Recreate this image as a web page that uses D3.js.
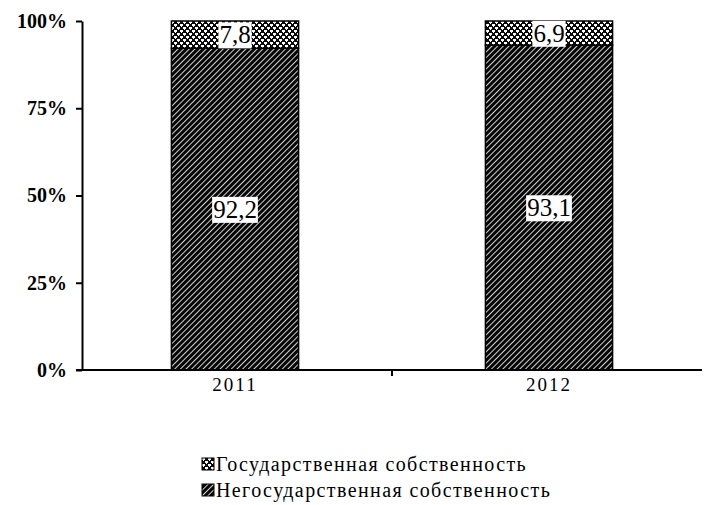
<!DOCTYPE html>
<html>
<head>
<meta charset="utf-8">
<script src="https://cdn.jsdelivr.net/npm/d3@7"></script>
<style>
	body { margin: 0; background: #fff; }
	svg text { font-family: "Liberation Serif", "DejaVu Serif", "Times New Roman", serif; fill: #000; }
</style>
</head>
<body>
<div class="chart"></div>
<script>
// data
const years = ['2011', '2012'];
const stateShare = [7.8, 6.9];
const privateShare = [92.2, 93.1];
const seriesNames = ['Государственная собственность', 'Негосударственная собственность'];
const yTicks = [0, 25, 50, 75, 100];

let width = 704,
	height = 505,
	serif = '"Liberation Serif", "DejaVu Serif", serif',
	xScale = d3.scaleBand().domain(years).range([78, 706]).paddingInner(0.595).paddingOuter(0.2975),
	yScale = d3.scaleLinear().domain([0, 100]).range([370, 21]),
	svg = null,
	defs = null;

svg = d3.select('.chart').append('svg')
	.attr('width', width)
	.attr('height', height);

defs = svg.append('defs');

// diagonal hatch (private)
let hatch = defs.append('pattern')
	.attr('id', 'hatch')
	.attr('patternUnits', 'userSpaceOnUse')
	.attr('width', 4)
	.attr('height', 4)
	.attr('patternTransform', 'rotate(45)');
hatch.append('rect').attr('width', 4).attr('height', 4).attr('fill', '#050505');
hatch.append('rect').attr('x', 0).attr('width', 1).attr('height', 4).attr('fill', '#d0d0d0');

// spotted pattern (state)
let spots = defs.append('pattern')
	.attr('id', 'spots')
	.attr('patternUnits', 'userSpaceOnUse')
	.attr('width', 6)
	.attr('height', 6);
spots.append('rect').attr('width', 6).attr('height', 6).attr('fill', '#0a0a0a');
spots.append('rect').attr('x', 0).attr('y', 0).attr('width', 3).attr('height', 2).attr('fill', '#fff');
spots.append('rect').attr('x', 3).attr('y', 3).attr('width', 3).attr('height', 2).attr('fill', '#fff');
spots.append('rect').attr('x', 1).attr('y', 2).attr('width', 1).attr('height', 1).attr('fill', '#fff');
spots.append('rect').attr('x', 4).attr('y', 5).attr('width', 1).attr('height', 1).attr('fill', '#fff');

let stacked = years.map((y, i) => ({ year: y, priv: privateShare[i], state: stateShare[i] }));

// bars
let bar = svg.selectAll('.bar')
	.data(stacked)
	.enter().append('g')
	.attr('class', 'bar');

bar.append('rect')
	.attr('x', d => xScale(d.year))
	.attr('width', xScale.bandwidth())
	.attr('y', d => yScale(d.priv))
	.attr('height', d => yScale(0) - yScale(d.priv))
	.attr('fill', 'url(#hatch)')
	.attr('stroke', '#000')
	.attr('stroke-width', 1.5);

bar.append('rect')
	.attr('x', d => xScale(d.year))
	.attr('width', xScale.bandwidth())
	.attr('y', d => yScale(d.priv + d.state))
	.attr('height', d => yScale(d.priv) - yScale(d.priv + d.state))
	.attr('fill', 'url(#spots)')
	.attr('stroke', '#000')
	.attr('stroke-width', 1.5);

// value labels with white boxes
function addLabel(sel, getY, getText) {
	let lg = sel.append('g');
	let t = lg.append('text')
		.attr('x', d => xScale(d.year) + xScale.bandwidth() / 2)
		.attr('y', getY)
		.attr('text-anchor', 'middle')
		.attr('dy', '0.35em')
		.style('font-family', serif)
		.style('font-size', '25px')
		.text(getText);
	t.each(function () {
		let b = this.getBBox();
		d3.select(this.parentNode).insert('rect', 'text')
			.attr('x', b.x - 1)
			.attr('y', b.y + 1)
			.attr('width', b.width + 2)
			.attr('height', b.height - 1)
			.attr('fill', '#fff');
	});
}
addLabel(bar, d => Math.max(yScale(d.priv + d.state / 2), 33), d => String(d.state).replace('.', ','));
addLabel(bar, d => yScale(d.priv / 2), d => String(d.priv).replace('.', ','));

// y axis
let yAxis = svg.append('g')
	.attr('transform', 'translate(82,0)')
	.call(d3.axisLeft(yScale).tickValues(yTicks).tickFormat(d => d + '%').tickSize(6).tickSizeOuter(0));
yAxis.select('.domain').attr('stroke', '#000').attr('stroke-width', 2);
yAxis.selectAll('.tick line').attr('stroke', '#000').attr('stroke-width', 2);
yAxis.selectAll('.tick text')
	.attr('x', -15)
	.style('font-family', serif)
	.style('font-size', '20px')
	.style('font-weight', 'bold');

// x axis
svg.append('line')
	.attr('x1', 76).attr('x2', 702)
	.attr('y1', yScale(0)).attr('y2', yScale(0))
	.attr('stroke', '#000').attr('stroke-width', 2);
svg.append('line')
	.attr('x1', 392).attr('x2', 392)
	.attr('y1', yScale(0)).attr('y2', yScale(0) + 6)
	.attr('stroke', '#000').attr('stroke-width', 2);

svg.selectAll('.xlab')
	.data(years)
	.enter().append('text')
	.attr('class', 'xlab')
	.attr('x', d => xScale(d) + xScale.bandwidth() / 2)
	.attr('y', 391)
	.attr('text-anchor', 'middle')
	.style('font-family', serif)
	.style('font-size', '19px')
	.style('letter-spacing', '2px')
	.text(d => d);

// legend
let legend = svg.selectAll('.legend')
	.data(seriesNames)
	.enter().append('g')
	.attr('class', 'legend')
	.attr('transform', (d, i) => 'translate(202,' + (458 + i * 26) + ')');

legend.append('rect')
	.attr('width', 12)
	.attr('height', 12)
	.attr('fill', (d, i) => i === 0 ? 'url(#spots)' : 'url(#hatch)')
	.attr('stroke', '#000');

legend.append('text')
	.attr('x', 14)
	.attr('y', 13)
	.style('font-family', serif)
	.style('font-size', '20px')
	.style('letter-spacing', '1.4px')
	.text(d => d);
</script>
</body>
</html>
